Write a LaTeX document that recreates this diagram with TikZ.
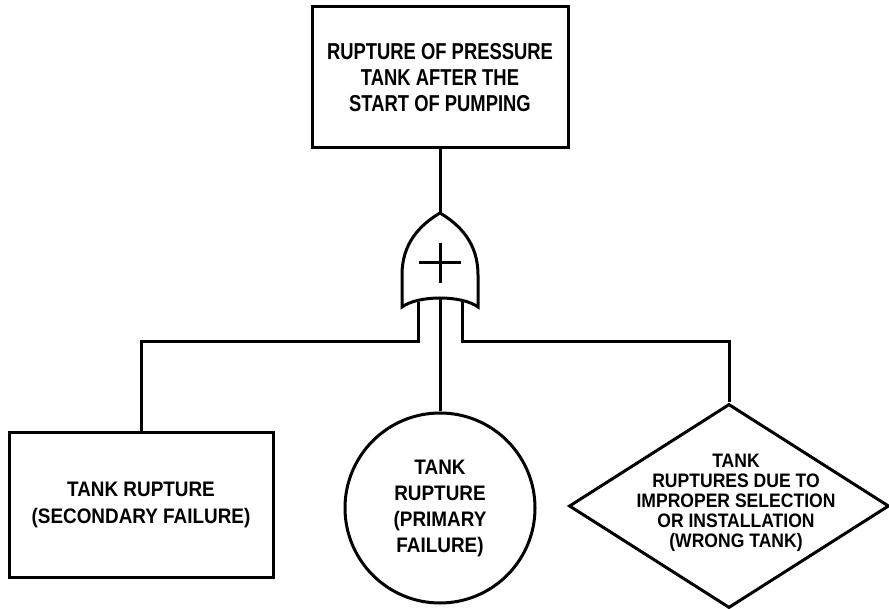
\documentclass[tikz,border=0pt]{standalone}
\usepackage{fontspec}
\newfontfamily\headfont{Liberation Sans}[FakeStretch=0.80]
\newfontfamily\labelfont{Liberation Sans}[FakeStretch=0.90]
\usepackage{tikz}
\usetikzlibrary{shapes.geometric}

\begin{document}
\begin{tikzpicture}[x=1pt,y=-1pt,line width=3pt,
  event/.style={draw,rectangle,align=center,inner sep=0pt,font=\labelfont\bfseries\fontsize{21}{26.5}\selectfont},
  basic/.style={draw,circle,align=center,inner sep=0pt,minimum size=190pt,font=\labelfont\bfseries\fontsize{21}{26}\selectfont},
  undev/.style={draw,diamond,inner sep=0pt,minimum width=320pt,minimum height=204pt},
  txt/.style={align=center,inner sep=0pt,font=\labelfont\bfseries\fontsize{19.5}{20}\selectfont}]
  \useasboundingbox (0,0) rectangle (889,609);
  \node[event,minimum width=256pt,minimum height=141pt,font=\headfont\bfseries\fontsize{23}{26}\selectfont] (top) at (440,77.5)
    {RUPTURE OF PRESSURE\\TANK AFTER THE\\START OF PUMPING};
  \node[event,minimum width=264pt,minimum height=144pt] (sec) at (141,505) {TANK RUPTURE\\(SECONDARY FAILURE)};
  \node[basic] (pri) at (440,508) {TANK\\RUPTURE\\(PRIMARY\\FAILURE)};
  \node[undev] (wrong) at (729,506) {};
  \node[txt] (wrongtxt) at (736,503) {TANK\\RUPTURES DUE TO\\IMPROPER SELECTION\\OR INSTALLATION\\(WRONG TANK)};
  \draw (402,307) -- (402,275) .. controls (402,243) and (420,225) .. (440,213)
    .. controls (460,225) and (478,243) .. (478,275) -- (478,307)
    .. controls (462,295) and (418,295) .. (402,307) -- cycle;
  \coordinate (gtop) at (440,213);
  \coordinate (gin1) at (418,302);
  \coordinate (gin2) at (440,299);
  \coordinate (gin3) at (462,302);
  \node[inner sep=0pt,minimum size=0pt] (plus) at (440,263) {};
  \draw (plus.center) ++(-21,0) -- ++(42,0);
  \draw (plus.center) ++(0,-20) -- ++(0,40);
  \draw (top.south) -- (gtop);
  \draw (gin1) -- ++(0,40) -| (sec.north);
  \draw (gin2) -- (pri.north);
  \draw (gin3) -- ++(0,40) -| (wrong.north);
\end{tikzpicture}
\end{document}
